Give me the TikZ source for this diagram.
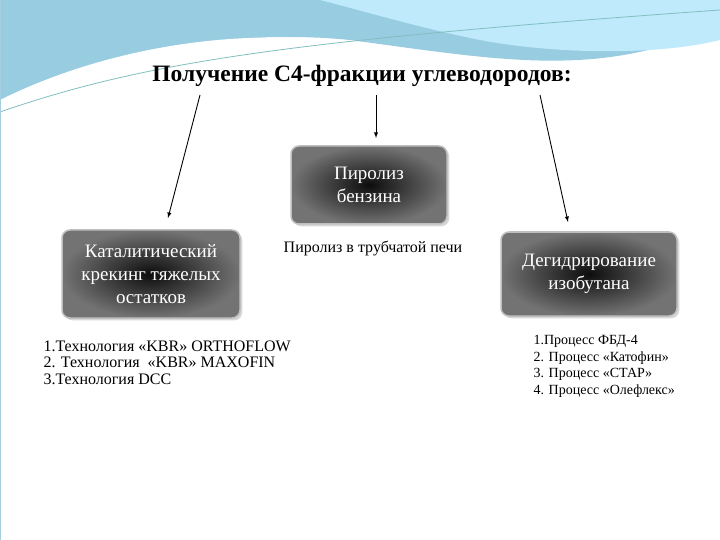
\documentclass[tikz,border=0pt]{standalone}
\usepackage{fontspec}
\setmainfont{Liberation Serif}
\usetikzlibrary{shadows}
\begin{document}
\begin{tikzpicture}[x=1pt,y=-1pt,
  gbox/.style={rounded corners=8pt,draw=gray!50,line width=1.5pt,inner color=black!95,outer color=black!55,drop shadow={opacity=0.3}},
  btxt/.style={text=white,align=center,font=\fontsize{19}{23}\selectfont},
  ltxt/.style={align=left,anchor=north west,font=\fontsize{16}{16.5}\selectfont},
  arr/.style={-latex,line width=0.9pt}]
\useasboundingbox (0,0) rectangle (720,540);
\fill[white] (0,0) rectangle (720,540);
% background swooshes
\fill[cyan!50!teal!45] (0,0) -- (720,0) -- (720,25) .. controls (600,80) and (500,60) .. (350,40) .. controls (200,25) and (80,70) .. (0,105) -- cycle;
\fill[cyan!25] (320,0) -- (720,0) -- (720,40) .. controls (660,55) and (560,55) .. (480,40) .. controls (420,28) and (360,10) .. (320,0) -- cycle;
\fill[white] (0,100) .. controls (80,60) and (200,28) .. (330,40) .. controls (280,42) and (150,70) .. (0,112) -- cycle;
\draw[teal!50,line width=0.8pt] (0,112) .. controls (150,60) and (300,40) .. (720,10);
\draw[cyan!40!teal!40,line width=1pt] (0,0) rectangle (720,540);
\node[font=\bfseries\fontsize{23.5}{26}\selectfont] (title) at (362,76) {Получение С4-фракции углеводородов:};
\node[gbox,minimum width=178pt,minimum height=88pt] (a) at (151,274) {};
\node[btxt] at (a) {Каталитический\\крекинг тяжелых\\остатков};
\node[gbox,minimum width=156pt,minimum height=78pt] (b) at (369,185) {};
\node[btxt] at (b) {Пиролиз\\бензина};
\node[gbox,minimum width=176pt,minimum height=84pt] (c) at (589,274) {};
\node[btxt] at (c) {Дегидрирование\\изобутана};
\node[font=\fontsize{16}{18}\selectfont] (p) at (373,248) {Пиролиз в трубчатой печи};
\coordinate (s1) at (200,95); \coordinate (s2) at (376,95); \coordinate (s3) at (540,95);
\coordinate (e1) at (168,218); \coordinate (e2) at (376,138); \coordinate (e3) at (568,222);
\draw[arr] (s1) -- (e1);
\draw[arr] (s2) -- (e2);
\draw[arr] (s3) -- (e3);
\node[ltxt] (l1) at (40,337) {1.Технология «KBR» ORTHOFLOW\\2. Технология \ «KBR» MAXOFIN\\3.Технология DCC};
\node[ltxt,font=\fontsize{14}{16.5}\selectfont] (l2) at (530,332) {1.Процесс ФБД-4\\2. Процесс «Катофин»\\3. Процесс «СТАР»\\4. Процесс «Олефлекс»};
\end{tikzpicture}
\end{document}
